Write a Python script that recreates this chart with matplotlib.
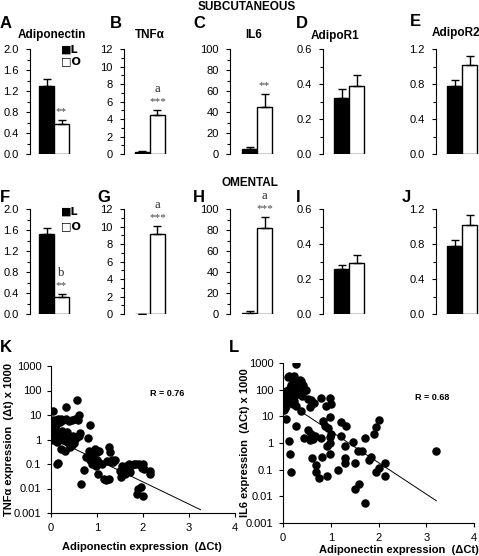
import numpy as np
import matplotlib.pyplot as plt
from matplotlib.ticker import MultipleLocator

plt.rcParams['font.family'] = ['Liberation Sans', 'DejaVu Sans']

W, H = 479, 556

# bar panels: lean (L) and obese (O), mean and SEM
genes = ["Adiponectin", "TNF\u03b1", "IL6", "AdipoR1", "AdipoR2"]
sub_L = [1.30, 0.20, 5.0, 0.32, 0.78]
sub_L_err = [0.13, 0.15, 2.0, 0.05, 0.07]
sub_O = [0.58, 4.5, 45.0, 0.39, 1.02]
sub_O_err = [0.07, 0.5, 12.0, 0.06, 0.10]
sub_sig = ["**", "***", "**", "", ""]
sub_letter = ["", "a", "", "", ""]

om_L = [1.52, 0.05, 1.0, 0.26, 0.78]
om_L_err = [0.11, 0.0, 2.0, 0.02, 0.07]
om_O = [0.32, 9.2, 82.0, 0.29, 1.02]
om_O_err = [0.06, 0.9, 10.0, 0.05, 0.11]
om_sig = ["**", "***", "***", "", ""]
om_letter = ["b", "a", "a", "", ""]

ymax = [2.0, 12, 100, 0.6, 1.2]
ystep = [0.4, 2, 20, 0.2, 0.4]
yfmt = ["%.1f", "%d", "%d", "%.1f", "%.1f"]

# scatter K: adiponectin dCt vs TNFa
k_x = [0.0, 0.0, 0.02, 0.02, 0.03, 0.05, 0.05, 0.05, 0.07, 0.08, 0.1, 0.1, 0.1, 0.12, 0.12,
       0.13, 0.15, 0.15, 0.16, 0.18, 0.2, 0.2, 0.22, 0.22, 0.24, 0.25, 0.27, 0.28, 0.3, 0.3,
       0.32, 0.33, 0.35, 0.35, 0.38, 0.4, 0.4, 0.42, 0.45, 0.45, 0.48, 0.5, 0.5, 0.52, 0.55,
       0.57, 0.58, 0.6, 0.6, 0.63, 0.65, 0.72, 0.75, 0.8, 0.82, 0.85, 0.85, 0.88, 0.9, 0.92,
       0.95, 0.97, 1.0, 1.0, 1.02, 1.03, 1.05, 1.1, 1.15, 1.2, 1.22, 1.25, 1.27, 1.28, 1.3,
       1.32, 1.35, 1.4, 1.5, 1.52, 1.55, 1.6, 1.62, 1.65, 1.7, 1.72, 1.75, 1.8, 1.85, 1.88,
       1.9, 1.92, 1.95, 1.98, 2.0, 2.0, 2.02, 2.15, 2.15]
k_y = [1.2, 1.5, 2.0, 3.5, 5.5, 14, 6, 1.0, 1.3, 2.5, 4, 6, 1.8, 0.8, 0.1,
       1.0, 0.11, 2.0, 7, 1.5, 5, 1.2, 7, 0.4, 2.2, 1.0, 6.5, 1.8, 0.35, 1.3,
       7, 22, 0.8, 2.0, 1.2, 5.5, 1.0, 0.5, 6.5, 0.6, 1.4, 0.7, 1.0, 7, 1.2,
       40, 6, 10, 1.4, 1.8, 0.015, 0.055, 0.2, 1.2, 0.35, 4, 0.15, 0.3, 0.1, 0.2,
       0.4, 0.08, 0.3, 0.15, 0.12, 0.04, 0.35, 0.1, 0.025, 0.022, 0.13, 0.025, 0.5, 0.3, 0.12,
       0.14, 0.12, 0.14, 0.05, 0.03, 0.08, 0.04, 0.085, 0.055, 0.1, 0.045, 0.09, 0.1, 0.1, 0.006,
       0.01, 0.1, 0.012, 0.07, 0.1, 0.005, 0.06, 0.04, 0.05]
k_fit = (1.2, -0.906, 3.25)   # intercept, log10 slope, x end
k_r = "R = 0.76"

# scatter L: adiponectin dCt vs IL6
l_x = [0.27, 0.13, 0.24, 0.03, 0.03, 0.07, 0.03, 0.07, 0.0, 0.0, 0.02, 0.05, 0.05, 0.08, 0.1,
       0.1, 0.12, 0.14, 0.15, 0.17, 0.18, 0.2, 0.2, 0.22, 0.24, 0.28, 0.28, 0.3, 0.31, 0.33,
       0.35, 0.38, 0.38, 0.4, 0.42, 0.44, 0.49, 0.52, 0.57, 0.59, 0.64, 0.07, 0.15, 0.13, 0.16,
       0.28, 0.43, 0.52, 0.56, 0.59, 0.63, 0.68, 0.61, 0.7, 0.7, 0.75, 0.8, 0.8, 0.82, 0.84,
       0.87, 0.9, 0.92, 0.92, 0.94, 0.98, 0.98, 0.99, 0.99, 1.0, 1.01, 0.99, 1.15, 1.22, 1.22,
       1.29, 1.3, 1.3, 1.31, 1.47, 1.5, 1.5, 1.6, 1.57, 1.66, 1.71, 1.71, 1.8, 1.85, 1.9,
       1.95, 1.95, 2.0, 2.0, 2.13, 2.13, 3.21]
l_y = [940, 316, 316, 65, 42, 87, 18, 25, 50, 70, 30, 55, 20, 40, 300,
       60, 35, 120, 80, 150, 45, 200, 28, 60, 37, 25, 100, 126, 70, 200,
       230, 205, 16, 60, 155, 90, 100, 45, 22, 42, 32, 8, 0.39, 1.2, 0.085,
       4.3, 1.6, 3.2, 1.3, 2.1, 1.4, 1.8, 0.28, 0.08, 0.15, 0.05, 50, 1.5, 0.3, 6.5,
       4.5, 25, 0.75, 0.06, 3.5, 50, 1.0, 9.5, 1.7, 28, 2.1, 0.4, 0.1, 6, 1.9,
       0.8, 0.18, 0.27, 4.5, 1.1, 0.18, 0.019, 0.028, 0.5, 0.5, 1.5, 0.0056, 0.23, 0.3, 2.2,
       4, 0.08, 7, 0.12, 0.06, 0.18, 0.51]
l_fit = (42.0, -1.18, 3.21)
l_r = "R = 0.68"


def px_axes(fig, left, top, w, h):
    return fig.add_axes([left / W, 1 - (top + h) / H, w / W, h / H])


def ftext(fig, x, y, s, **kw):
    fig.text(x / W, 1 - y / H, s, **kw)


fig = plt.figure(figsize=(W / 100, H / 100), dpi=100)

lefts = [30, 124, 230, 323, 436]
gaps = [9, 11, 12, 11, 11]
serif = ['Liberation Serif', 'DejaVu Serif']


def bar_row(top, L, Le, O, Oe, sig, letter):
    for i in range(5):
        ax = px_axes(fig, lefts[i], top, 45, 105)
        ax.bar([0, 1], [L[i], O[i]], width=1, color=['black', 'white'],
               edgecolor='black', linewidth=1, zorder=2)
        ax.errorbar([0, 1], [L[i], O[i]], yerr=[[0, 0], [Le[i], Oe[i]]], fmt='none',
                    ecolor='black', elinewidth=1, capsize=3, capthick=1, zorder=3)
        x0 = -0.5 - gaps[i] / 15
        ax.set_xlim(x0, x0 + 3)
        ax.set_ylim(0, ymax[i])
        ax.yaxis.set_major_locator(MultipleLocator(ystep[i]))
        ax.yaxis.set_minor_locator(MultipleLocator(ystep[i] / 2))
        ax.set_yticks(ax.get_yticks())
        ax.set_yticklabels([yfmt[i] % t for t in ax.get_yticks()])
        ax.set_ylim(0, ymax[i])
        for sp in ['top', 'right', 'bottom']:
            ax.spines[sp].set_visible(False)
        ax.spines['left'].set_linewidth(0.8)
        ax.set_xticks([])
        ax.tick_params(axis='y', which='major', length=3, width=0.8, labelsize=8, pad=5)
        ax.tick_params(axis='y', which='minor', length=2, width=0.8)
        ax.patch.set_alpha(0)
        top_o = O[i] + Oe[i]
        if sig[i]:
            ax.annotate(sig[i], (1, top_o), xytext=(0, 4), textcoords='offset pixels',
                        ha='center', va='bottom', fontsize=8, color='#444444', family=serif)
        if letter[i]:
            ax.annotate(letter[i], (1, top_o), xytext=(0, 15), textcoords='offset pixels',
                        ha='center', va='bottom', fontsize=9, color='#222222', family=serif)


bar_row(49, sub_L, sub_L_err, sub_O, sub_O_err, sub_sig, sub_letter)
bar_row(209, om_L, om_L_err, om_O, om_O_err, om_sig, om_letter)

# headings and panel letters
ftext(fig, 247, 7, "SUBCUTANEOUS", ha='center', va='center', fontsize=8.5, fontweight='bold')
ftext(fig, 250, 183, "OMENTAL", ha='center', va='center', fontsize=8.5, fontweight='bold')
title_x = [52, 150, 254, 335, 456]
title_y = [35, 35, 35, 36, 33]
for i in range(5):
    ftext(fig, title_x[i], title_y[i], genes[i], ha='center', va='center',
          fontsize=8.5, fontweight='bold')
for s, x, y in zip("ABCDE", [0, 110, 193, 296, 410], [23, 23, 23, 23, 21]):
    ftext(fig, x, y, s, ha='left', va='center', fontsize=12, fontweight='bold')
for s, x, y in zip("FGHIJ", [0, 97, 193, 296, 402], [197, 197, 198, 198, 198]):
    ftext(fig, x, y, s, ha='left', va='center', fontsize=12, fontweight='bold')

# legend marks in A and F
for yl, yo in [(50, 61), (212, 226)]:
    ftext(fig, 61, yl, "\u25a0L", ha='left', va='center', fontsize=8, fontweight='bold',
          family=['DejaVu Sans'])
    ftext(fig, 61, yo, "\u25a1O", ha='left', va='center', fontsize=8, fontweight='bold',
          family=['DejaVu Sans'])


def scatter_panel(left, top, w, h, xs, ys, fit, rtext, rpos):
    ax = px_axes(fig, left, top, w, h)
    xx = np.linspace(0, fit[2], 50)
    ax.plot(xx, fit[0] * 10 ** (fit[1] * xx), color='black', lw=0.7, zorder=1)
    ax.scatter(xs, ys, s=26, color='black', zorder=2)
    ax.set_yscale('log')
    ax.set_xlim(0, 4)
    ax.set_ylim(0.001, 1000)
    ax.set_xticks([0, 1, 2, 3, 4])
    ax.set_yticks([0.001, 0.01, 0.1, 1, 10, 100, 1000])
    ax.set_yticklabels(["0.001", "0.01", "0.1", "1", "10", "100", "1000"])
    ax.minorticks_off()
    for sp in ['top', 'right']:
        ax.spines[sp].set_visible(False)
    ax.spines['left'].set_linewidth(0.8)
    ax.spines['bottom'].set_linewidth(0.8)
    ax.tick_params(length=3, width=0.8, labelsize=8, pad=4)
    ax.patch.set_alpha(0)
    ftext(fig, rpos[0], rpos[1], rtext, ha='center', va='center', fontsize=6.5,
          fontweight='bold')
    return ax


scatter_panel(51, 366, 184, 147, k_x, k_y, k_fit, k_r, (167, 393))
scatter_panel(283, 363, 191, 160, l_x, l_y, l_fit, l_r, (432, 398))

ftext(fig, 9, 440, "TNF\u03b1 expression  (\u0394t) x 1000", rotation=90, ha='center',
      va='center', fontsize=8, fontweight='bold')
ftext(fig, 142, 547, "Adiponectin expression  (\u0394Ct)", ha='center', va='center',
      fontsize=8, fontweight='bold')
ftext(fig, 245, 443, "IL6 expression  (\u0394Ct) x 1000", rotation=90, ha='center',
      va='center', fontsize=8, fontweight='bold')
ftext(fig, 399, 550, "Adiponectin expression  (\u0394Ct)", ha='center', va='center',
      fontsize=8, fontweight='bold')
ftext(fig, 0, 347, "K", ha='left', va='center', fontsize=12, fontweight='bold')
ftext(fig, 229, 347, "L", ha='left', va='center', fontsize=12, fontweight='bold')

fig.savefig("out.png", dpi=100)
